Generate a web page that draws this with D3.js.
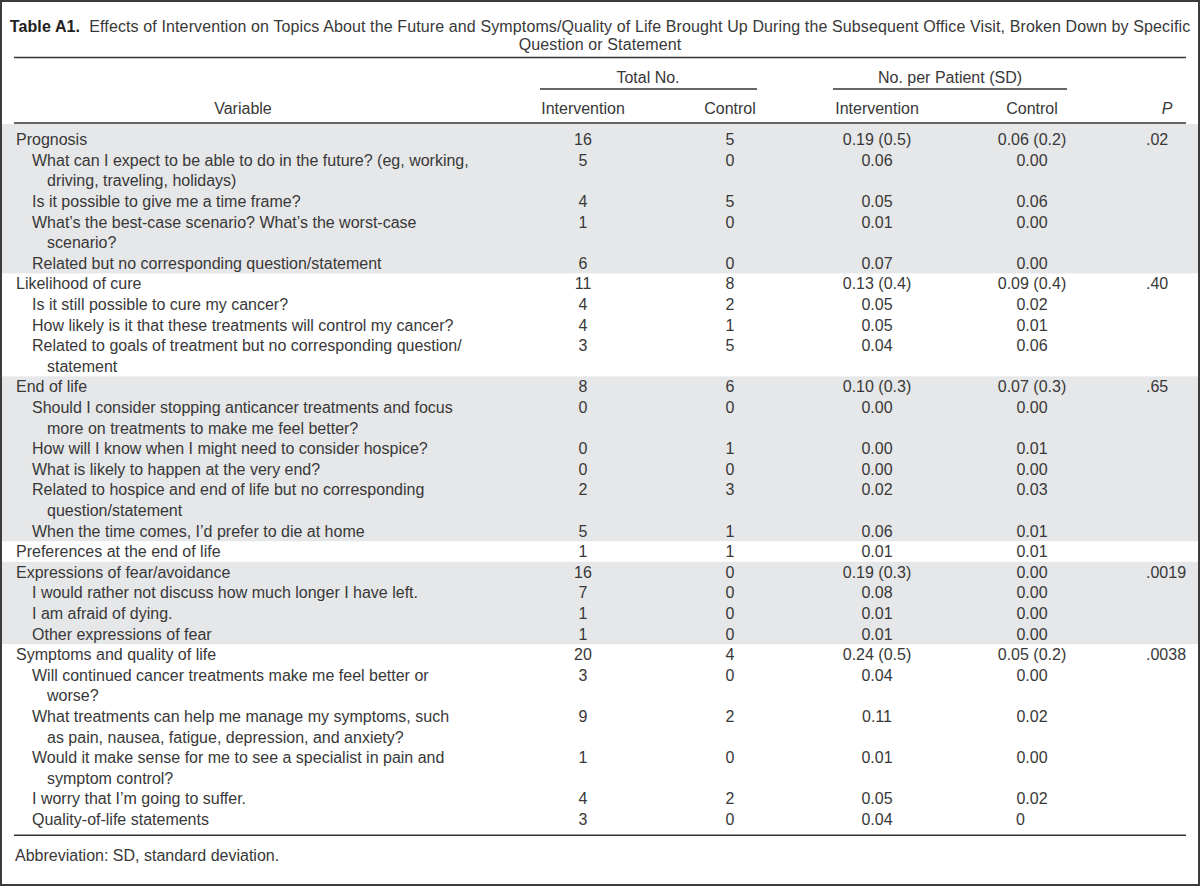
<!DOCTYPE html>
<html>
<head>
<meta charset="utf-8">
<script src="https://cdn.jsdelivr.net/npm/d3@7"></script>
<style>
  html, body { margin: 0; padding: 0; background: #fff; }
  svg { display: block; }
  text { font-family: "Liberation Sans", Arial, sans-serif; fill: #383838; }
</style>
</head>
<body>
<svg id="chart" width="1200" height="886"></svg>
<script>
// ---------- data ----------
const titleBold = "Table A1.";
const titleLines = [
  "Effects of Intervention on Topics About the Future and Symptoms/Quality of Life Brought Up During the Subsequent Office Visit, Broken Down by Specific",
  "Question or Statement"
];
const spanHeaders = ["Total No.", "No. per Patient (SD)"];
const columnHeaders = ["Variable", "Intervention", "Control", "Intervention", "Control", "P"];
const footnote = "Abbreviation: SD, standard deviation.";

const groupIndex = [0,0,0,0,0, 1,1,1,1, 2,2,2,2,2,2, 3, 4,4,4,4, 5,5,5,5,5,5];
const isGroupRow = [1,0,0,0,0, 1,0,0,0, 1,0,0,0,0,0, 1, 1,0,0,0, 1,0,0,0,0,0];
const labels = [
  ["Prognosis"],
  ["What can I expect to be able to do in the future? (eg, working,", "driving, traveling, holidays)"],
  ["Is it possible to give me a time frame?"],
  ["What’s the best-case scenario? What’s the worst-case", "scenario?"],
  ["Related but no corresponding question/statement"],
  ["Likelihood of cure"],
  ["Is it still possible to cure my cancer?"],
  ["How likely is it that these treatments will control my cancer?"],
  ["Related to goals of treatment but no corresponding question/", "statement"],
  ["End of life"],
  ["Should I consider stopping anticancer treatments and focus", "more on treatments to make me feel better?"],
  ["How will I know when I might need to consider hospice?"],
  ["What is likely to happen at the very end?"],
  ["Related to hospice and end of life but no corresponding", "question/statement"],
  ["When the time comes, I’d prefer to die at home"],
  ["Preferences at the end of life"],
  ["Expressions of fear/avoidance"],
  ["I would rather not discuss how much longer I have left."],
  ["I am afraid of dying."],
  ["Other expressions of fear"],
  ["Symptoms and quality of life"],
  ["Will continued cancer treatments make me feel better or", "worse?"],
  ["What treatments can help me manage my symptoms, such", "as pain, nausea, fatigue, depression, and anxiety?"],
  ["Would it make sense for me to see a specialist in pain and", "symptom control?"],
  ["I worry that I’m going to suffer."],
  ["Quality-of-life statements"]
];
const interventionTotal = [16,5,4,1,6, 11,4,4,3, 8,0,0,0,2,5, 1, 16,7,1,1, 20,3,9,1,4,3];
const controlTotal      = [5,0,5,0,0, 8,2,1,5, 6,0,1,0,3,1, 1, 0,0,0,0, 4,0,2,0,2,0];
const interventionPerPatient = ["0.19 (0.5)","0.06","0.05","0.01","0.07",
  "0.13 (0.4)","0.05","0.05","0.04",
  "0.10 (0.3)","0.00","0.00","0.00","0.02","0.06",
  "0.01",
  "0.19 (0.3)","0.08","0.01","0.01",
  "0.24 (0.5)","0.04","0.11","0.01","0.05","0.04"];
const controlPerPatient = ["0.06 (0.2)","0.00","0.06","0.00","0.00",
  "0.09 (0.4)","0.02","0.01","0.06",
  "0.07 (0.3)","0.00","0.01","0.00","0.03","0.01",
  "0.01",
  "0.00","0.00","0.00","0.00",
  "0.05 (0.2)","0.00","0.02","0.00","0.02","0"];
const pValues = [".02","","","","", ".40","","","", ".65","","","","","", "", ".0019","","","", ".0038","","","","",""];

// ---------- layout ----------
const W = 1200, H = 886;
const svg = d3.select("#chart");
const FS = 16;

const rows = labels.map((l, i) => ({
  i, lines: l, group: groupIndex[i], isGroup: isGroupRow[i] === 1,
  it: interventionTotal[i], ct: controlTotal[i],
  ip: interventionPerPatient[i], cp: controlPerPatient[i], p: pValues[i]
}));
let li = 0;
rows.forEach(r => { r.line = li; li += r.lines.length; });
const totalLines = li;

const lineH = 20.6;
const y = d3.scaleLinear().domain([0, totalLines - 1]).range([139.5, 139.5 + (totalLines - 1) * lineH]);

const colX = d3.scaleOrdinal()
  .domain(["it", "ct", "ip", "cp", "p"])
  .range([583, 730, 877, 1032, 1146]);

const ruleX0 = 14, ruleX1 = 1186;
const titleRuleY = 57.5, headerRuleY = 123, bottomRuleY = y(totalLines - 1) + 16;

// border
svg.append("rect").attr("x", 1).attr("y", 1).attr("width", W - 2).attr("height", H - 2)
  .attr("fill", "#fff").attr("stroke", "#3c3c3c").attr("stroke-width", 2);

// bands
const groups = d3.groups(rows, d => d.group);
groups.forEach(([g, rs], gi) => {
  if (gi % 2 !== 0) return;
  const first = rs[0].line, lastRow = rs[rs.length - 1];
  const last = lastRow.line + lastRow.lines.length - 1;
  const top = gi === 0 ? headerRuleY + 1 : y(first) - lineH / 2;
  const bot = y(last) + lineH / 2;
  svg.append("rect").attr("x", 2).attr("y", top).attr("width", W - 4).attr("height", bot - top)
    .attr("fill", "#e6e7e8");
});

// title
const title = svg.append("text").attr("text-anchor", "middle").attr("font-size", FS)
  .style("letter-spacing", "0.12px");
const t1 = title.append("tspan").attr("x", 600).attr("y", 32);
t1.append("tspan").attr("font-weight", "bold").style("fill", "#222").text(titleBold);
t1.append("tspan").text("\u00a0\u00a0" + titleLines[0]);
title.append("tspan").attr("x", 600).attr("y", 50).text(titleLines[1]);

// rules
function rule(x0, x1, yy, w) {
  svg.append("line").attr("x1", x0).attr("x2", x1).attr("y1", yy).attr("y2", yy)
    .attr("stroke", "#333").attr("stroke-width", w);
}
rule(ruleX0, ruleX1, titleRuleY, 1.5);
rule(ruleX0, ruleX1, headerRuleY, 1.5);
rule(ruleX0, ruleX1, bottomRuleY, 1.5);
rule(540, 757, 89, 1.3);
rule(833, 1067, 89, 1.3);

// headers
const hdr = svg.append("g").attr("font-size", FS);
hdr.append("text").attr("x", 648).attr("y", 77).attr("dy", "0.35em").attr("text-anchor", "middle").text(spanHeaders[0]);
hdr.append("text").attr("x", 950).attr("y", 77).attr("dy", "0.35em").attr("text-anchor", "middle").text(spanHeaders[1]);
const hx = [243, colX("it"), colX("ct"), colX("ip"), colX("cp"), 1167];
columnHeaders.forEach((h, k) => {
  const t = hdr.append("text").attr("x", hx[k]).attr("y", 108).attr("dy", "0.35em")
    .attr("text-anchor", "middle").text(h);
  if (h === "P") t.attr("font-style", "italic");
});

// body
const body = svg.append("g").attr("font-size", FS);
const rg = body.selectAll("g.row").data(rows).join("g").attr("class", "row");
rg.each(function(d) {
  const g = d3.select(this);
  d.lines.forEach((ln, k) => {
    const x = d.isGroup ? 16 : (k === 0 ? 32 : 47);
    g.append("text").attr("x", x).attr("y", y(d.line + k)).attr("dy", "0.35em").text(ln);
  });
  const yy = y(d.line);
  [["it", d.it], ["ct", d.ct], ["ip", d.ip], ["cp", d.cp]].forEach(([k, v]) => {
    const s = String(v);
    const t = g.append("text").attr("y", yy).attr("dy", "0.35em").text(s);
    if ((k === "ip" || k === "cp") && s.length === 1) {
      t.attr("x", colX(k) - 16).attr("text-anchor", "start");
    } else {
      t.attr("x", colX(k)).attr("text-anchor", "middle");
    }
  });
  if (d.p) g.append("text").attr("x", colX("p")).attr("y", yy).attr("dy", "0.35em").text(d.p);
});

// footnote
svg.append("text").attr("x", 15).attr("y", bottomRuleY + 20).attr("dy", "0.35em")
  .attr("font-size", FS).text(footnote);
</script>
</body>
</html>
